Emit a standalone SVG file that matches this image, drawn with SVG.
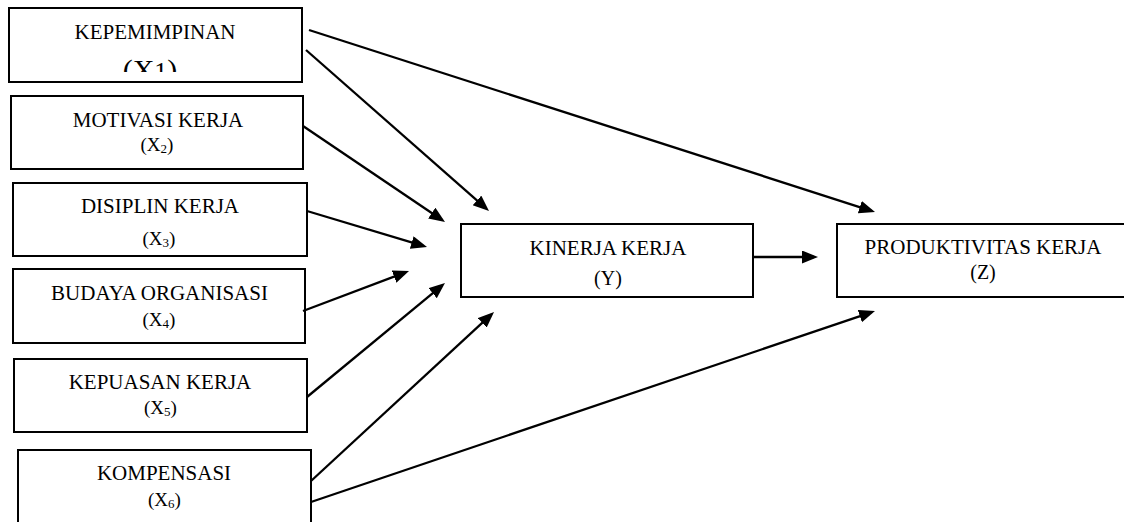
<svg xmlns="http://www.w3.org/2000/svg" width="1124" height="522" viewBox="0 0 1124 522">
<style>
.box{fill:#fff;stroke:#000;stroke-width:2}
text{font-family:'Liberation Serif','DejaVu Serif',serif;fill:#000;text-anchor:middle}
.l1{font-size:21px}
.l2{font-size:19px}
.sub{font-size:13px}
.con line{stroke:#000;stroke-width:2.3;marker-end:url(#ah)}
</style>
<defs>
<marker id="ah" markerUnits="userSpaceOnUse" markerWidth="17" markerHeight="14" refX="12" refY="6.5" orient="auto" viewBox="0 0 17 14">
<path d="M0,0 L16,6.5 L0,13 Z" fill="#000"/>
</marker>
<clipPath id="c1"><rect x="9" y="0" width="293" height="72"/></clipPath>
</defs>
<rect width="1124" height="522" fill="#fff"/>
<g id="x1">
<rect class="box" x="9" y="8" width="293" height="74"/>
<text class="l1" x="155" y="39" font-family="Liberation Serif, serif">KEPEMIMPINAN</text>
<text x="150" y="80" font-size="30" font-family="Liberation Serif, serif" clip-path="url(#c1)">(X<tspan font-size="26">1</tspan>)</text>
</g>
<g id="x2">
<rect class="box" x="11" y="96" width="292" height="73"/>
<text class="l1" x="158" y="127" font-family="Liberation Serif, serif">MOTIVASI KERJA</text>
<text class="l2" x="157" y="151" font-family="Liberation Serif, serif">(X<tspan class="sub" dy="2">2</tspan><tspan dy="-2">)</tspan></text>
</g>
<g id="x3">
<rect class="box" x="13" y="183" width="294" height="73"/>
<text class="l1" x="160" y="213" font-family="Liberation Serif, serif">DISIPLIN KERJA</text>
<text class="l2" x="159" y="245" font-family="Liberation Serif, serif">(X<tspan class="sub" dy="2">3</tspan><tspan dy="-2">)</tspan></text>
</g>
<g id="x4">
<rect class="box" x="13" y="269" width="292" height="74"/>
<text class="l1" x="159.5" y="300" font-family="Liberation Serif, serif">BUDAYA ORGANISASI</text>
<text class="l2" x="159" y="326" font-family="Liberation Serif, serif">(X<tspan class="sub" dy="2">4</tspan><tspan dy="-2">)</tspan></text>
</g>
<g id="x5">
<rect class="box" x="14" y="359" width="293" height="73"/>
<text class="l1" x="160" y="389" font-family="Liberation Serif, serif">KEPUASAN KERJA</text>
<text class="l2" x="160.5" y="414" font-family="Liberation Serif, serif">(X<tspan class="sub" dy="2">5</tspan><tspan dy="-2">)</tspan></text>
</g>
<g id="x6">
<rect class="box" x="18" y="450" width="293" height="82"/>
<text class="l1" x="164" y="480" font-family="Liberation Serif, serif">KOMPENSASI</text>
<text class="l2" x="164.5" y="506" font-family="Liberation Serif, serif">(X<tspan class="sub" dy="2">6</tspan><tspan dy="-2">)</tspan></text>
</g>
<g id="y">
<rect class="box" x="461" y="224" width="292" height="73"/>
<text class="l1" x="608" y="255" font-family="Liberation Serif, serif">KINERJA KERJA</text>
<text x="608" y="285" font-size="20" font-family="Liberation Serif, serif">(Y)</text>
</g>
<g id="z">
<rect class="box" x="837" y="224" width="293" height="73"/>
<text class="l1" x="983" y="254" font-family="Liberation Serif, serif">PRODUKTIVITAS KERJA</text>
<text x="983" y="279" font-size="20" font-family="Liberation Serif, serif">(Z)</text>
</g>
<g id="connectors" class="con">
<line x1="309" y1="30" x2="871.2" y2="210.8"/>
<line x1="306" y1="50" x2="486.0" y2="208.4"/>
<line x1="303" y1="126" x2="441.7" y2="219.8"/>
<line x1="307" y1="211" x2="423.2" y2="245.9"/>
<line x1="303" y1="311" x2="405.3" y2="272.4"/>
<line x1="307" y1="397" x2="441.9" y2="285.6"/>
<line x1="311" y1="481" x2="491.1" y2="314.7"/>
<line x1="311" y1="502" x2="871.2" y2="312.3"/>
<line x1="753" y1="257" x2="814" y2="257"/>
</g>
</svg>
